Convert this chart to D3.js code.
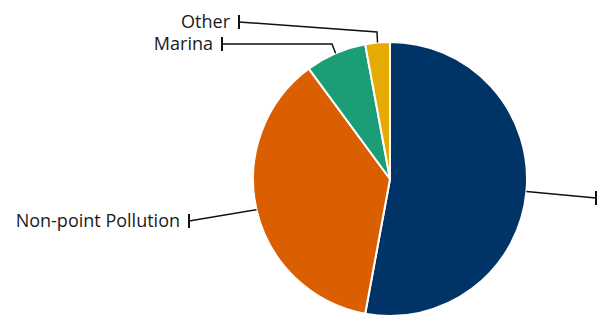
<!DOCTYPE html>
<html lang="en">
<head>
    <meta charset="UTF-8" />
    <title>Pie chart</title>
    <script src="https://d3js.org/d3.v7.min.js"></script>
    <style>
        body { margin: 0; background: #fff; }
        text { font-family: "Open Sans", sans-serif; font-size: 18px; fill: #1a1a1a; }
    </style>
</head>
<body>
    <script>
        var w = 599;
        var h = 316;

        // data
        var categories = ["Point Source", "Non-point Pollution", "Marina", "Other"];
        var values = [52.9, 37.0, 7.2, 2.9];
        var colors = ["#003366", "#db5f00", "#1b9e77", "#e6ab02"];

        var cx = 390, cy = 179, r = 137;

        // label tick positions (layout only)
        var labelPos = [
            { elbow: null, x: 596, y: 198, side: "right" },
            { elbow: null, x: 189, y: 221, side: "left" },
            { elbow: [332, 44], x: 222, y: 44, side: "left" },
            { elbow: [377, 32], x: 239, y: 22, side: "left" }
        ];

        var svg = d3.select("body")
            .append("svg")
            .attr("width", w)
            .attr("height", h);

        var data = categories.map(function(c, i) {
            return { name: c, value: values[i], color: colors[i], pos: labelPos[i] };
        });

        var pie = d3.pie()
            .sort(null)
            .value(function(d) { return d.value; });

        var arc = d3.arc()
            .innerRadius(0)
            .outerRadius(r);

        var edge = d3.arc()
            .innerRadius(r)
            .outerRadius(r);

        var g = svg.append("g")
            .attr("transform", "translate(" + cx + "," + cy + ")");

        var arcs = pie(data);

        g.selectAll("path.slice")
            .data(arcs)
            .enter()
            .append("path")
            .attr("class", "slice")
            .attr("d", arc)
            .attr("fill", function(d) { return d.data.color; })
            .attr("stroke", "#fff")
            .attr("stroke-width", 2);

        // connectors
        arcs.forEach(function(d) {
            var p = edge.centroid(d);
            var start = [cx + p[0], cy + p[1]];
            var pos = d.data.pos;
            var pts = [start];
            if (pos.elbow) pts.push(pos.elbow);
            pts.push([pos.x, pos.y]);

            svg.append("path")
                .attr("d", d3.line()(pts))
                .attr("fill", "none")
                .attr("stroke", "#111")
                .attr("stroke-width", 1.5);

            // end tick
            svg.append("line")
                .attr("x1", pos.x).attr("x2", pos.x)
                .attr("y1", pos.y - 7).attr("y2", pos.y + 7)
                .attr("stroke", "#111")
                .attr("stroke-width", 2);

            if (pos.side === "left") {
                svg.append("text")
                    .attr("x", pos.x - 9)
                    .attr("y", pos.y)
                    .attr("dy", "0.35em")
                    .attr("text-anchor", "end")
                    .text(d.data.name);
            }
        });
    </script>
</body>
</html>
